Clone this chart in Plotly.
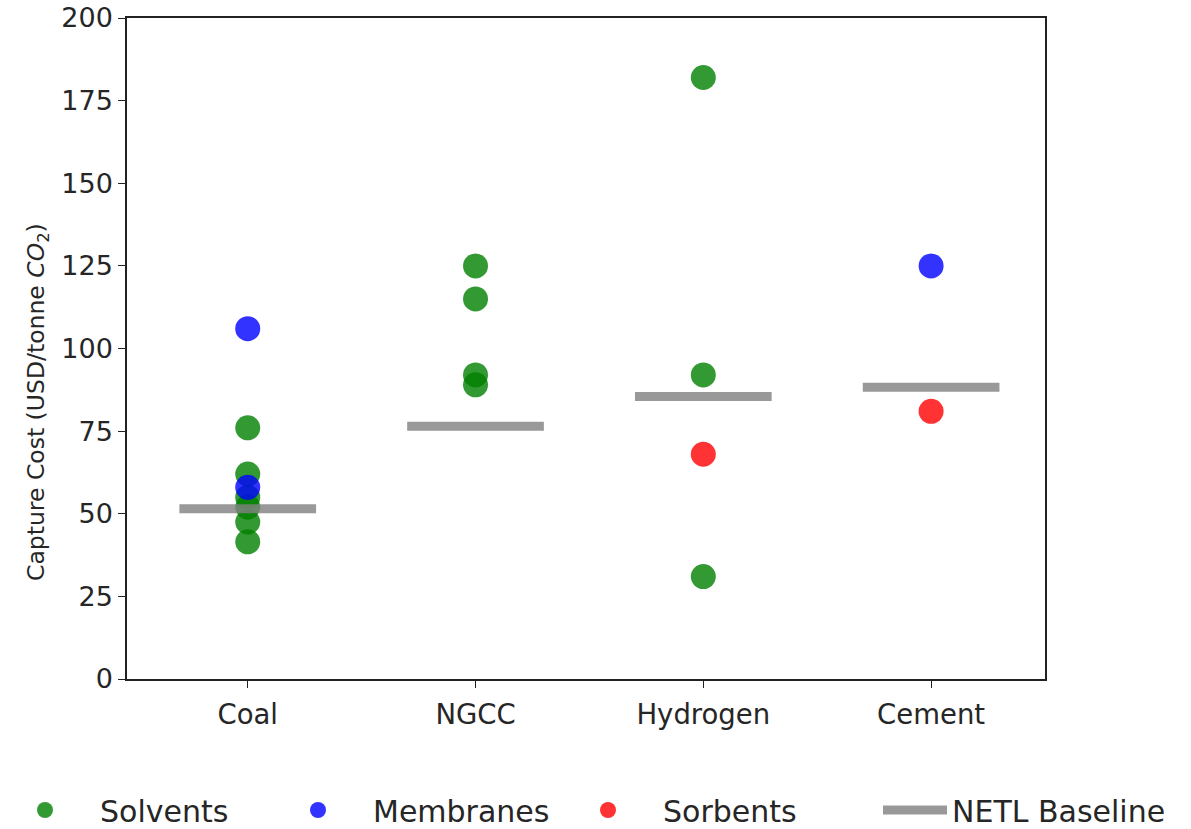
import plotly.graph_objects as go

categories = ["Coal", "NGCC", "Hydrogen", "Cement"]

solvents_cat = ["Coal", "Coal", "Coal", "Coal", "Coal", "Coal",
                "NGCC", "NGCC", "NGCC", "NGCC",
                "Hydrogen", "Hydrogen", "Hydrogen"]
solvents_val = [76, 62, 55, 52, 47.5, 41.5,
                125, 115, 92, 89,
                182, 92, 31]

membranes_cat = ["Coal", "Coal", "Cement"]
membranes_val = [106, 58, 125]

sorbents_cat = ["Hydrogen", "Cement"]
sorbents_val = [68, 81]

baseline_val = [51.5, 76.5, 85.5, 88.3]

yticks = [0, 25, 50, 75, 100, 125, 150, 175, 200]

FONT = "DejaVu Sans"
TXT = "#262626"

W, H = 1191, 829
L, R, T, B = 127, 146, 18, 150
PW, PH = W - L - R, H - T - B


def idx(cats):
    return [categories.index(c) for c in cats]


def px_x(p):
    return (p - L) / PW


def px_y(p):
    return (H - B - p) / PH


fig = go.Figure()
marker_size = 25
fig.add_trace(go.Scatter(x=idx(solvents_cat), y=solvents_val, mode="markers", name="Solvents",
                         legend="legend",
                         marker=dict(size=marker_size, color="rgba(0,128,0,0.8)", line=dict(width=0))))
fig.add_trace(go.Scatter(x=idx(membranes_cat), y=membranes_val, mode="markers", name="Membranes",
                         legend="legend2",
                         marker=dict(size=marker_size, color="rgba(0,0,255,0.8)", line=dict(width=0))))
fig.add_trace(go.Scatter(x=idx(sorbents_cat), y=sorbents_val, mode="markers", name="Sorbents",
                         legend="legend3",
                         marker=dict(size=marker_size, color="rgba(255,0,0,0.8)", line=dict(width=0))))

half = 0.3
bx, by = [], []
for i, v in enumerate(baseline_val):
    bx += [i - half, i + half, None]
    by += [v, v, None]
fig.add_trace(go.Scatter(x=bx, y=by, mode="lines", name="NETL Baseline", legend="legend4",
                         line=dict(color="rgba(128,128,128,0.8)", width=9)))

leg_common = dict(orientation="h", xanchor="left", y=px_y(810), yanchor="middle",
                  font=dict(size=30, family=FONT, color=TXT),
                  bgcolor="rgba(0,0,0,0)")

fig.update_layout(
    width=W, height=H,
    margin=dict(l=L, r=R, t=T, b=B, autoexpand=False),
    paper_bgcolor="white", plot_bgcolor="white",
    font=dict(family=FONT, size=27, color=TXT),
    showlegend=True,
    legend=dict(x=px_x(-10), itemwidth=100, **leg_common),
    legend2=dict(x=px_x(263), itemwidth=100, **leg_common),
    legend3=dict(x=px_x(553), itemwidth=100, **leg_common),
    legend4=dict(x=px_x(878), itemwidth=64, **leg_common),
)
fig.update_xaxes(range=[-0.53, 3.5], tickmode="array", tickvals=list(range(len(categories))),
                 ticktext=categories, showline=True, linecolor="#222", linewidth=1.5, mirror=True,
                 ticks="outside", ticklen=7, tickcolor="#222", showgrid=False, zeroline=False,
                 automargin=False, ticklabelstandoff=3,
                 tickfont=dict(size=27.5, family=FONT, color=TXT))
fig.update_yaxes(range=[0, 200], tickmode="array", tickvals=yticks, showline=True, linecolor="#222",
                 linewidth=1.5, mirror=True, ticks="outside", ticklen=7, tickcolor="#222",
                 showgrid=False, zeroline=False, automargin=False,
                 tickfont=dict(size=27, family=FONT, color=TXT))

fig.add_annotation(text="Capture Cost (USD/tonne <i>CO</i><sub>2</sub>)", textangle=-90,
                   xref="paper", yref="paper", x=px_x(37), y=px_y(402),
                   xanchor="center", yanchor="middle", showarrow=False,
                   font=dict(size=23.5, family=FONT, color=TXT))

fig.write_html("out.html", config={"displayModeBar": False},
               post_script="document.body.style.margin='0';")
